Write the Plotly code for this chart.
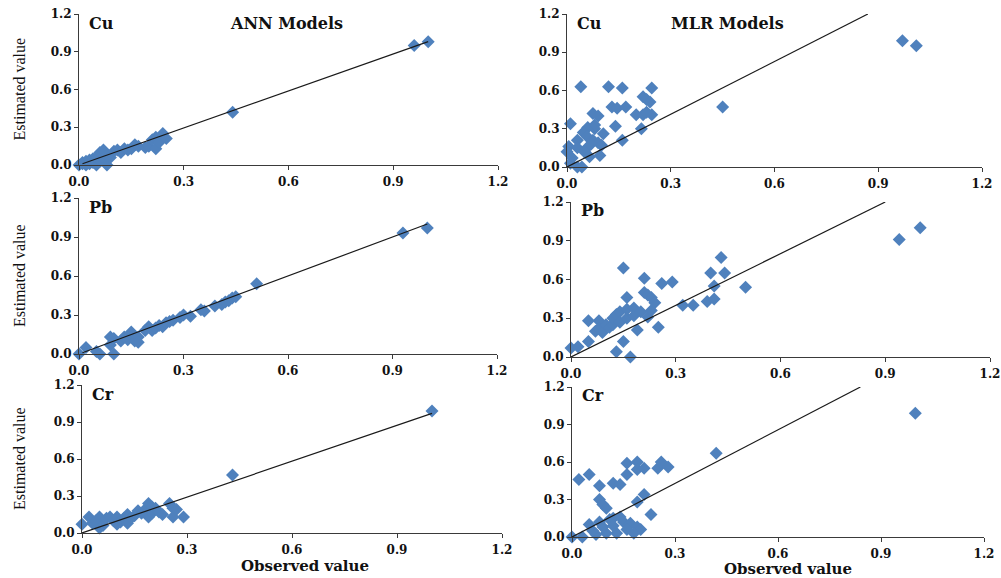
import plotly.graph_objects as go

# ---------------- data ----------------
ann_cu_obs = [0.00,0.01,0.01,0.02,0.02,0.03,0.03,0.04,0.04,0.05,0.05,0.06,0.06,0.07,0.07,0.08,0.08,0.09,0.10,0.11,0.12,0.13,0.14,0.15,0.16,0.17,0.19,0.20,0.21,0.22,0.22,0.23,0.24,0.25,0.44,0.96,1.00]
ann_cu_est = [0.00,0.01,0.02,0.00,0.03,0.01,0.04,0.02,0.05,0.00,0.06,0.03,0.10,0.12,0.05,0.00,0.08,0.06,0.11,0.12,0.10,0.13,0.12,0.13,0.16,0.15,0.14,0.15,0.20,0.13,0.22,0.18,0.25,0.21,0.42,0.95,0.98]
ann_cu_fit_x = [0.01, 1.00]
ann_cu_fit_y = [0.01, 0.98]

mlr_cu_obs = [0.04,0.12,0.16,0.245,0.22,0.23,0.24,0.13,0.145,0.17,0.45,0.075,0.09,0.20,0.22,0.245,0.23,0.01,0.14,0.215,0.06,0.08,0.105,0.047,0.16,0.03,0.058,0.075,0.09,0.005,0.0,0.03,0.058,0.065,0.095,0.015,0.03,0.043,0.01,0.97,1.01,0.07,0.05,0.10,0.08]
mlr_cu_est = [0.63,0.63,0.62,0.62,0.55,0.53,0.51,0.47,0.46,0.47,0.47,0.42,0.40,0.41,0.41,0.41,0.43,0.34,0.32,0.30,0.31,0.30,0.26,0.27,0.21,0.21,0.24,0.21,0.19,0.16,0.12,0.15,0.15,0.08,0.09,0.07,0.0,0.0,0.03,0.99,0.95,0.18,0.12,0.17,0.33]
mlr_cu_fit_x = [0.00, 0.87]
mlr_cu_fit_y = [0.00, 1.20]

ann_pb_obs = [0.0,0.02,0.05,0.06,0.09,0.09,0.1,0.1,0.12,0.13,0.14,0.15,0.16,0.17,0.17,0.19,0.2,0.21,0.22,0.23,0.24,0.25,0.26,0.27,0.29,0.3,0.32,0.35,0.36,0.39,0.41,0.42,0.43,0.44,0.45,0.51,0.93,1.0]
ann_pb_est = [0.0,0.05,0.02,0.0,0.13,0.07,0.0,0.12,0.1,0.13,0.11,0.17,0.1,0.13,0.09,0.18,0.21,0.18,0.2,0.22,0.21,0.24,0.25,0.26,0.28,0.3,0.29,0.34,0.33,0.37,0.38,0.4,0.41,0.43,0.44,0.54,0.93,0.97]
ann_pb_fit_x = [0.01, 1.00]
ann_pb_fit_y = [0.01, 1.00]

mlr_pb_obs = [0.0,0.02,0.05,0.05,0.07,0.08,0.08,0.09,0.1,0.11,0.12,0.12,0.13,0.13,0.14,0.14,0.15,0.15,0.16,0.16,0.16,0.17,0.18,0.18,0.19,0.2,0.21,0.21,0.22,0.22,0.23,0.23,0.24,0.25,0.26,0.29,0.32,0.35,0.39,0.4,0.41,0.41,0.43,0.44,0.5,0.94,1.0]
mlr_pb_est = [0.07,0.08,0.28,0.12,0.2,0.28,0.22,0.19,0.25,0.23,0.25,0.3,0.33,0.04,0.35,0.27,0.69,0.12,0.46,0.3,0.37,0.0,0.38,0.32,0.21,0.35,0.61,0.5,0.48,0.31,0.46,0.36,0.42,0.23,0.57,0.58,0.4,0.4,0.43,0.65,0.45,0.55,0.77,0.65,0.54,0.91,1.0]
mlr_pb_fit_x = [0.00, 0.90]
mlr_pb_fit_y = [0.00, 1.20]

ann_cr_obs = [0.0,0.02,0.03,0.04,0.05,0.05,0.06,0.07,0.08,0.09,0.1,0.1,0.11,0.12,0.13,0.13,0.14,0.15,0.16,0.17,0.18,0.19,0.19,0.2,0.2,0.21,0.22,0.23,0.25,0.26,0.26,0.27,0.29,0.43,1.0]
ann_cr_est = [0.07,0.13,0.08,0.1,0.13,0.04,0.06,0.12,0.13,0.1,0.13,0.07,0.09,0.12,0.15,0.08,0.12,0.14,0.18,0.16,0.19,0.24,0.13,0.21,0.16,0.2,0.17,0.15,0.24,0.2,0.13,0.19,0.13,0.47,0.99]
ann_cr_fit_x = [0.00, 1.00]
ann_cr_fit_y = [0.00, 0.97]

mlr_cr_obs = [0.0,0.02,0.05,0.08,0.08,0.09,0.1,0.12,0.14,0.16,0.16,0.19,0.19,0.21,0.19,0.21,0.23,0.25,0.26,0.28,0.42,1.0,0.05,0.08,0.11,0.12,0.14,0.15,0.17,0.19,0.2,0.13,0.1,0.07,0.03,0.09,0.16,0.18,0.06,0.12]
mlr_cr_est = [0.0,0.46,0.5,0.41,0.3,0.26,0.23,0.43,0.42,0.5,0.59,0.6,0.54,0.55,0.28,0.34,0.18,0.55,0.6,0.56,0.67,0.99,0.1,0.12,0.14,0.15,0.16,0.12,0.11,0.08,0.06,0.03,0.03,0.02,0.0,0.08,0.06,0.03,0.05,0.09]
mlr_cr_fit_x = [0.00, 0.84]
mlr_cr_fit_y = [0.00, 1.20]

metal_labels = ["Cu", "Pb", "Cr"]
model_titles = ["ANN Models", "MLR Models"]
tick_vals = [0.0, 0.3, 0.6, 0.9, 1.2]
tick_text = ["0.0", "0.3", "0.6", "0.9", "1.2"]

# ---------------- layout geometry (screen pixels) ----------------
W, H = 1001, 578


def px(xs):
    return xs / W


def py(ys):
    return 1 - ys / H


# (left, right, top, bottom) of each plot area in screen pixels
boxes = [
    (79, 498, 14, 165), (567, 982, 14, 167),
    (79, 497, 198, 354), (571, 990, 202, 357),
    (82, 502, 385, 533), (572, 984, 387, 537),
]
panels = [
    (ann_cu_obs, ann_cu_est, ann_cu_fit_x, ann_cu_fit_y),
    (mlr_cu_obs, mlr_cu_est, mlr_cu_fit_x, mlr_cu_fit_y),
    (ann_pb_obs, ann_pb_est, ann_pb_fit_x, ann_pb_fit_y),
    (mlr_pb_obs, mlr_pb_est, mlr_pb_fit_x, mlr_pb_fit_y),
    (ann_cr_obs, ann_cr_est, ann_cr_fit_x, ann_cr_fit_y),
    (mlr_cr_obs, mlr_cr_est, mlr_cr_fit_x, mlr_cr_fit_y),
]

MARKER = "#4F81BD"
AXIS = "#3a3a3a"
TICKFONT = dict(family="DejaVu Serif", size=12, color="#111111", weight="bold")

fig = go.Figure()
layout = dict(
    width=W, height=H, margin=dict(l=0, r=0, t=0, b=0),
    paper_bgcolor="white", plot_bgcolor="white", showlegend=False,
    annotations=[],
)

for i, ((ox, oy, fx, fy), (l, r, t, b)) in enumerate(zip(panels, boxes)):
    n = i + 1
    xa = "x" if n == 1 else f"x{n}"
    ya = "y" if n == 1 else f"y{n}"
    fig.add_trace(go.Scatter(
        x=ox, y=oy, mode="markers", xaxis=xa, yaxis=ya, cliponaxis=False,
        marker=dict(symbol="diamond", size=10, color=MARKER, line=dict(width=0)),
    ))
    fig.add_trace(go.Scatter(
        x=fx, y=fy, mode="lines", xaxis=xa, yaxis=ya,
        line=dict(color="#1a1a1a", width=1.2),
    ))
    common = dict(
        range=[0, 1.2], tickvals=tick_vals, ticktext=tick_text,
        showgrid=False, zeroline=False, showline=True, linecolor=AXIS, linewidth=1,
        ticks="outside", ticklen=4, tickcolor=AXIS, tickfont=TICKFONT,
        automargin=False, fixedrange=True, ticklabeloverflow="allow",
    )
    layout["xaxis" if n == 1 else f"xaxis{n}"] = dict(
        common, domain=[px(l), px(r)], anchor=ya, ticklabelstandoff=2)
    layout["yaxis" if n == 1 else f"yaxis{n}"] = dict(
        common, domain=[py(b), py(t)], anchor=xa)

    row = i // 2
    col = i % 2
    layout["annotations"].append(dict(
        x=px(l + 8), y=py(t + 9), xref="paper", yref="paper",
        text=f"<b>{metal_labels[row]}</b>", showarrow=False,
        xanchor="left", yanchor="middle",
        font=dict(family="DejaVu Serif", size=16, color="#111111"),
    ))
    if col == 0:
        layout["annotations"].append(dict(
            x=px(19), y=py((t + b) / 2), xref="paper", yref="paper",
            text="Estimated value", showarrow=False, textangle=-90,
            xanchor="center", yanchor="middle",
            font=dict(family="Liberation Serif", size=16, color="#111111"),
        ))
    if row == 0:
        cx = 286 if col == 0 else 727
        layout["annotations"].append(dict(
            x=px(cx), y=py(24), xref="paper", yref="paper",
            text=f"<b>{model_titles[col]}</b>", showarrow=False,
            xanchor="center", yanchor="middle",
            font=dict(family="DejaVu Serif", size=16, color="#111111"),
        ))
    if row == 2:
        cx, cy = (305, 566) if col == 0 else (788, 569)
        layout["annotations"].append(dict(
            x=px(cx), y=py(cy), xref="paper", yref="paper",
            text="<b>Observed value</b>", showarrow=False,
            xanchor="center", yanchor="middle",
            font=dict(family="DejaVu Serif", size=15, color="#111111"),
        ))

fig.update_layout(**layout)
# remove the default page margin so the 1001x578 figure fills the window exactly
fig.write_html(
    "out.html",
    config={"displayModeBar": False},
    post_script="document.body.style.margin='0';document.body.style.overflow='hidden';",
)
